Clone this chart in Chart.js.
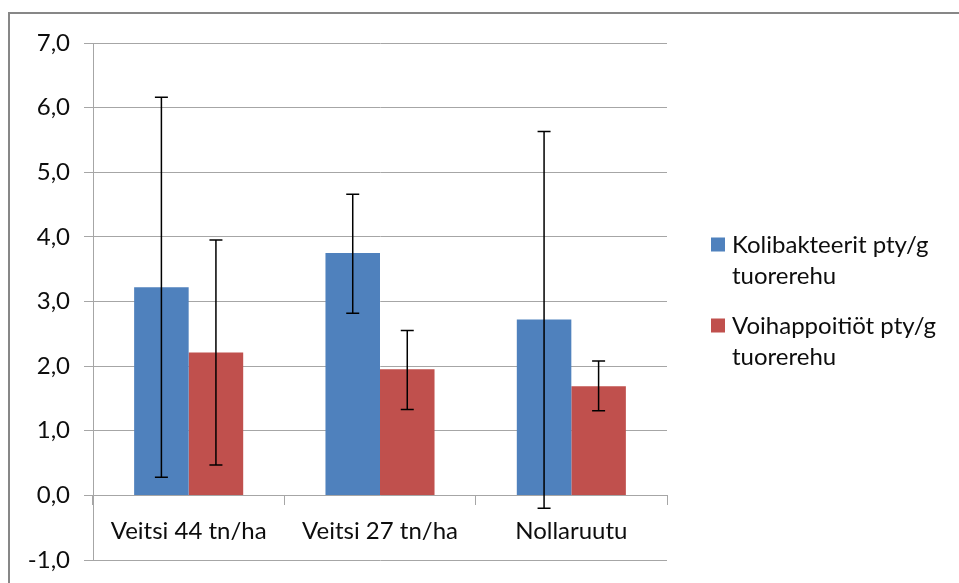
<!DOCTYPE html>
<html>
<head>
<meta charset="utf-8">
<script src="https://cdn.jsdelivr.net/npm/chart.js@4.4.0/dist/chart.umd.min.js"></script>
<style>
  html, body { margin: 0; padding: 0; background: #fff; overflow: hidden; }
  #frame { position: absolute; left: 8px; top: 12px; width: 1000px; height: 700px; border: 2px solid #878787; }
  #wrap { position: absolute; left: 0; top: 0; width: 959px; height: 583px; }
</style>
</head>
<body>
<div id="frame"></div>
<div id="wrap"><canvas id="chart" width="959" height="583"></canvas></div>
<script>
// data
var categories = ["Veitsi 44 tn/ha", "Veitsi 27 tn/ha", "Nollaruutu"];
var seriesNames = ["Kolibakteerit pty/g tuorerehu", "Voihappoitiöt pty/g tuorerehu"];
var koliValues = [3.22, 3.75, 2.72];
var koliHigh = [6.16, 4.66, 5.63];
var koliLow = [0.28, 2.82, -0.20];
var voiValues = [2.21, 1.95, 1.69];
var voiHigh = [3.95, 2.55, 2.08];
var voiLow = [0.47, 1.33, 1.31];
var yMin = -1, yMax = 7;

var errors = [
	{ low: koliLow, high: koliHigh },
	{ low: voiLow, high: voiHigh }
];

var gridGray = "#a6a6a6";
var textColor = "#0d0d0d";
var fontFamily = "Lato, 'DejaVu Sans', sans-serif";
var fontSize = 24;

function fmt(v){
	return v.toFixed(1).replace('.', ',');
}

function noScalePadding(scale){
	scale.paddingTop = 0;
	scale.paddingBottom = 0;
	scale.paddingLeft = 0;
	scale.paddingRight = 0;
}

// error bars, drawn on top of the bars
var errorBarPlugin = {
	id: 'errorBars',
	afterDatasetsDraw: function(chart){
		var ctx = chart.ctx;
		var yScale = chart.scales.y;
		ctx.save();
		ctx.strokeStyle = "#000";
		ctx.lineWidth = 1.5;
		chart.data.datasets.forEach(function(ds, i){
			var meta = chart.getDatasetMeta(i);
			meta.data.forEach(function(bar, j){
				var x = bar.x;
				var yHi = yScale.getPixelForValue(errors[i].high[j]);
				var yLo = yScale.getPixelForValue(errors[i].low[j]);
				ctx.beginPath();
				ctx.moveTo(x, yHi); ctx.lineTo(x, yLo);
				ctx.moveTo(x - 6.5, yHi); ctx.lineTo(x + 6.5, yHi);
				ctx.moveTo(x - 6.5, yLo); ctx.lineTo(x + 6.5, yLo);
				ctx.stroke();
			});
		});
		ctx.restore();
	}
};

// legend to the right with wrapped labels
var sideLegendPlugin = {
	id: 'sideLegend',
	afterDraw: function(chart){
		var ctx = chart.ctx;
		var area = chart.chartArea;
		var boxX = area.right + 44;
		var textX = boxX + 21;
		var maxW = 959 - textX - 6;
		var lineH = 31;
		var itemGap = 19;
		ctx.save();
		ctx.font = fontSize + "px " + fontFamily;
		ctx.textBaseline = "alphabetic";
		ctx.fillStyle = textColor;

		var items = chart.data.datasets.map(function(ds){
			var words = ds.label.split(' ');
			var lines = [];
			var cur = '';
			words.forEach(function(w){
				var t = cur ? cur + ' ' + w : w;
				if (cur && ctx.measureText(t).width > maxW){
					lines.push(cur);
					cur = w;
				} else {
					cur = t;
				}
			});
			if (cur) lines.push(cur);
			return { lines: lines, color: ds.backgroundColor };
		});

		var total = 0;
		items.forEach(function(it, k){ total += it.lines.length * lineH + (k ? itemGap : 0); });
		var y = (area.top + area.bottom) / 2 - total / 2;

		items.forEach(function(it){
			ctx.fillStyle = it.color;
			ctx.fillRect(boxX, y + 7.5, 14, 14);
			ctx.fillStyle = textColor;
			it.lines.forEach(function(line, n){
				ctx.fillText(line, textX, y + 22.5 + n * lineH);
			});
			y += it.lines.length * lineH + itemGap;
		});
		ctx.restore();
	}
};

var chart_bar_settings = {
	type: 'bar',
	data: {
		labels: categories,
		datasets: [
			{ label: seriesNames[0], data: koliValues, backgroundColor: "#4F81BD" },
			{ label: seriesNames[1], data: voiValues, backgroundColor: "#C0504D" }
		]
	},
	options: {
		responsive: false,
		animation: false,
		devicePixelRatio: 1,
		layout: { padding: { left: 0, top: 43, right: 292, bottom: 23 } },
		datasets: { bar: { categoryPercentage: 0.57, barPercentage: 1.0 } },
		plugins: {
			legend: { display: false },
			tooltip: { enabled: false }
		},
		scales: {
			x: {
				position: { y: 0 },
				afterFit: noScalePadding,
				grid: { drawOnChartArea: false, drawTicks: true, tickLength: 9, color: gridGray, offset: true },
				border: { display: true, color: gridGray, width: 1 },
				ticks: { color: textColor, font: { family: fontFamily, size: fontSize }, padding: 12, maxRotation: 0 }
			},
			y: {
				min: yMin,
				max: yMax,
				afterFit: function(scale){
					noScalePadding(scale);
					scale.width = 93;
				},
				grid: { color: gridGray, tickLength: 9 },
				border: { display: true, color: gridGray, width: 1 },
				ticks: {
					stepSize: 1,
					padding: 14,
					color: textColor,
					font: { family: fontFamily, size: fontSize },
					callback: function(v){ return fmt(v); }
				}
			}
		}
	},
	plugins: [errorBarPlugin, sideLegendPlugin]
};

var chart_element = document.getElementById('chart');
var chart_bar = new Chart(chart_element, chart_bar_settings);
</script>
</body>
</html>
